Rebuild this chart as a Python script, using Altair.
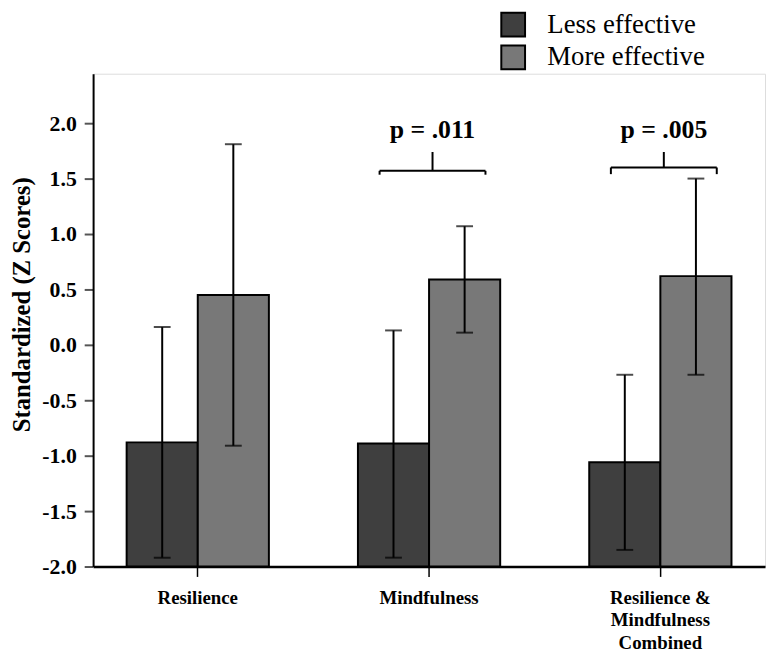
import altair as alt
import pandas as pd

categories = ["Resilience", "Mindfulness", "Resilience & Mindfulness Combined"]
label_lines = {
    "Resilience": ["Resilience"],
    "Mindfulness": ["Mindfulness"],
    "Resilience & Mindfulness Combined": ["Resilience &", "Mindfulness", "Combined"],
}
groups = ["Less effective", "More effective"]
colors = ["#3f3f3f", "#787878"]

less_mean = [-0.88, -0.89, -1.06]
less_lo = [-1.92, -1.92, -1.85]
less_hi = [0.16, 0.13, -0.27]
more_mean = [0.45, 0.59, 0.62]
more_lo = [-0.91, 0.11, -0.27]
more_hi = [1.81, 1.07, 1.50]

ann_cats = ["Mindfulness", "Resilience & Mindfulness Combined"]
ann_text = ["p = .011", "p = .005"]
bracket_y = [1.57, 1.60]
bracket_end_y = [1.535, 1.54]
bracket_top_y = [1.74, 1.74]
text_y = [1.87, 1.87]

y_ticks = [-2.0, -1.5, -1.0, -0.5, 0.0, 0.5, 1.0, 1.5, 2.0]

rows = []
for i, c in enumerate(categories):
    rows.append({"cat": c, "group": groups[0], "mean": less_mean[i], "lo": less_lo[i], "hi": less_hi[i]})
    rows.append({"cat": c, "group": groups[1], "mean": more_mean[i], "lo": more_lo[i], "hi": more_hi[i]})
df = pd.DataFrame(rows)
ann = pd.DataFrame({"cat": ann_cats, "text": ann_text, "by": bracket_y, "bey": bracket_end_y,
                    "bty": bracket_top_y, "ty": text_y})

SERIF = "Liberation Serif"

expr_parts = []
for k, v in label_lines.items():
    arr = "[" + ", ".join("'" + s + "'" for s in v) + "]"
    expr_parts.append(f"datum.label == '{k}' ? {arr}")
label_expr = " : ".join(expr_parts) + " : datum.label"

x_enc = alt.X("cat:N", sort=categories, title=None,
              scale=alt.Scale(paddingInner=0.385, paddingOuter=0.145),
              axis=alt.Axis(labelExpr=label_expr, labelAngle=0, labelFont=SERIF,
                            labelFontSize=19, labelFontWeight="bold", labelColor="black",
                            labelLineHeight=23, labelPadding=12, tickSize=10, tickColor="black",
                            tickWidth=1.5, domainColor="black", domainWidth=2.5,
                            labelBaseline="top"))
y_scale = alt.Scale(domain=[-2.0, 2.446], nice=False, zero=False)
y_axis = alt.Axis(values=y_ticks, title="Standardized (Z Scores)",
                  labelExpr="replace(format(datum.value, '.1f'), '−', '-')",
                  labelFont=SERIF, labelFontSize=22, labelFontWeight="bold", labelColor="black",
                  labelPadding=8, tickSize=9, tickColor="#555555", tickWidth=2,
                  domainColor="black", domainWidth=2, grid=False,
                  titleFont=SERIF, titleFontSize=25, titleFontWeight="bold", titleColor="black",
                  titleX=-72, titleY=233, titleAngle=-90, titleAlign="center", titleBaseline="middle")
xoff = alt.XOffset("group:N", sort=groups, scale=alt.Scale(paddingInner=0, paddingOuter=0))

bars = alt.Chart(df).mark_bar(stroke="black", strokeWidth=2, opacity=1).encode(
    x=x_enc,
    xOffset=xoff,
    y=alt.Y("mean:Q", scale=y_scale, axis=y_axis),
    y2=alt.datum(-2.0),
    color=alt.Color("group:N", sort=groups, scale=alt.Scale(domain=groups, range=colors),
                    legend=alt.Legend(orient="none", legendX=411, legendY=-63, title=None,
                                      symbolType="square", symbolSize=576,
                                      symbolStrokeColor="black", symbolStrokeWidth=2,
                                      symbolOpacity=1, labelFont=SERIF, labelFontSize=27,
                                      labelColor="black", labelOffset=21, rowPadding=0,
                                      labelLimit=400)),
)

err = alt.Chart(df).mark_rule(color="black", strokeWidth=2).encode(
    x=alt.X("cat:N", sort=categories),
    xOffset=xoff,
    y=alt.Y("lo:Q", scale=y_scale),
    y2="hi:Q",
)
cap_lo = alt.Chart(df).mark_tick(color="black", size=17, thickness=2, orient="horizontal").encode(
    x=alt.X("cat:N", sort=categories), xOffset=xoff, y=alt.Y("lo:Q", scale=y_scale))
cap_hi = alt.Chart(df).mark_tick(color="black", size=17, thickness=2, orient="horizontal").encode(
    x=alt.X("cat:N", sort=categories), xOffset=xoff, y=alt.Y("hi:Q", scale=y_scale))

br_h = alt.Chart(ann).mark_rule(color="black", strokeWidth=2, xOffset=-50, x2Offset=57).encode(
    x=alt.X("cat:N", sort=categories), x2="cat:N", y=alt.Y("by:Q", scale=y_scale))
br_l = alt.Chart(ann).mark_rule(color="black", strokeWidth=2, xOffset=-50).encode(
    x=alt.X("cat:N", sort=categories), y=alt.Y("by:Q", scale=y_scale), y2="bey:Q")
br_r = alt.Chart(ann).mark_rule(color="black", strokeWidth=2, xOffset=57).encode(
    x=alt.X("cat:N", sort=categories), y=alt.Y("by:Q", scale=y_scale), y2="bey:Q")
br_m = alt.Chart(ann).mark_rule(color="black", strokeWidth=2, xOffset=3.5).encode(
    x=alt.X("cat:N", sort=categories), y=alt.Y("by:Q", scale=y_scale), y2="bty:Q")
txt = alt.Chart(ann).mark_text(font=SERIF, fontSize=26, fontWeight="bold", color="black",
                               align="center", baseline="alphabetic", dx=3.5).encode(
    x=alt.X("cat:N", sort=categories), y=alt.Y("ty:Q", scale=y_scale), text="text:N")

chart = alt.layer(bars, err, cap_lo, cap_hi, br_h, br_l, br_r, br_m, txt).properties(
    width=679, height=498,
    autosize=alt.AutoSizeParams(type="none"),
    padding={"left": 86, "top": 63, "right": 2, "bottom": 86},
).configure_view(stroke="black", strokeWidth=2).configure(background="white")

chart.save("out.html", embed_options={"renderer": "svg", "actions": False})
